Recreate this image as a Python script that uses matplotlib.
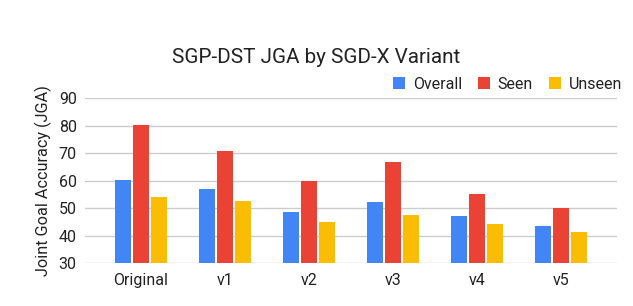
import numpy as np
import matplotlib.pyplot as plt

plt.rcParams['font.family'] = ['Roboto', 'DejaVu Sans']

variants = ['Original', 'v1', 'v2', 'v3', 'v4', 'v5']
overall = [60.2, 57.0, 48.6, 52.3, 47.2, 43.5]
seen = [80.2, 70.8, 59.9, 66.8, 55.2, 50.1]
unseen = [54.0, 52.6, 45.0, 47.5, 44.3, 41.4]

series = [('Overall', overall, '#4285F4'),
          ('Seen', seen, '#EA4335'),
          ('Unseen', unseen, '#FBBC04')]

fig = plt.figure(figsize=(6.33, 3.06), dpi=100)
ax = fig.add_axes([0.1343, 0.1395, 0.8404, 0.5402])

x = np.arange(len(variants))
step = 0.214
width = 0.19
for i, (name, vals, color) in enumerate(series):
    ax.bar(x + (i - 1) * step, np.array(vals) - 30, width, bottom=30,
           color=color, label=name, zorder=3)

ax.set_ylim(30, 90)
ax.set_xlim(-0.667, 5.667)
ax.set_yticks(range(30, 91, 10))
ax.set_xticks(x)
ax.set_xticklabels(variants)
ax.tick_params(length=0, labelsize=11.5, colors='#222222')
ax.tick_params(axis='y', pad=6)
ax.tick_params(axis='x', pad=7)
ax.grid(axis='y', color='#cccccc', linewidth=1, zorder=0)
for s in ax.spines.values():
    s.set_visible(False)

ax.set_ylabel('Joint Goal Accuracy (JGA)', fontsize=11.7, color='#222222', labelpad=5)

fig.text(0.5, 0.813, 'SGP-DST JGA by SGD-X Variant', ha='center', va='center',
         fontsize=14.9, color='#222222')

ax.legend(loc='lower right', bbox_to_anchor=(1.022, 1.0), ncol=3, frameon=False,
          fontsize=11.5, handlelength=0.75, handleheight=0.75, handletextpad=0.5,
          columnspacing=1.0, borderaxespad=0, labelcolor='#222222')

fig.savefig('out.png', dpi=100)
